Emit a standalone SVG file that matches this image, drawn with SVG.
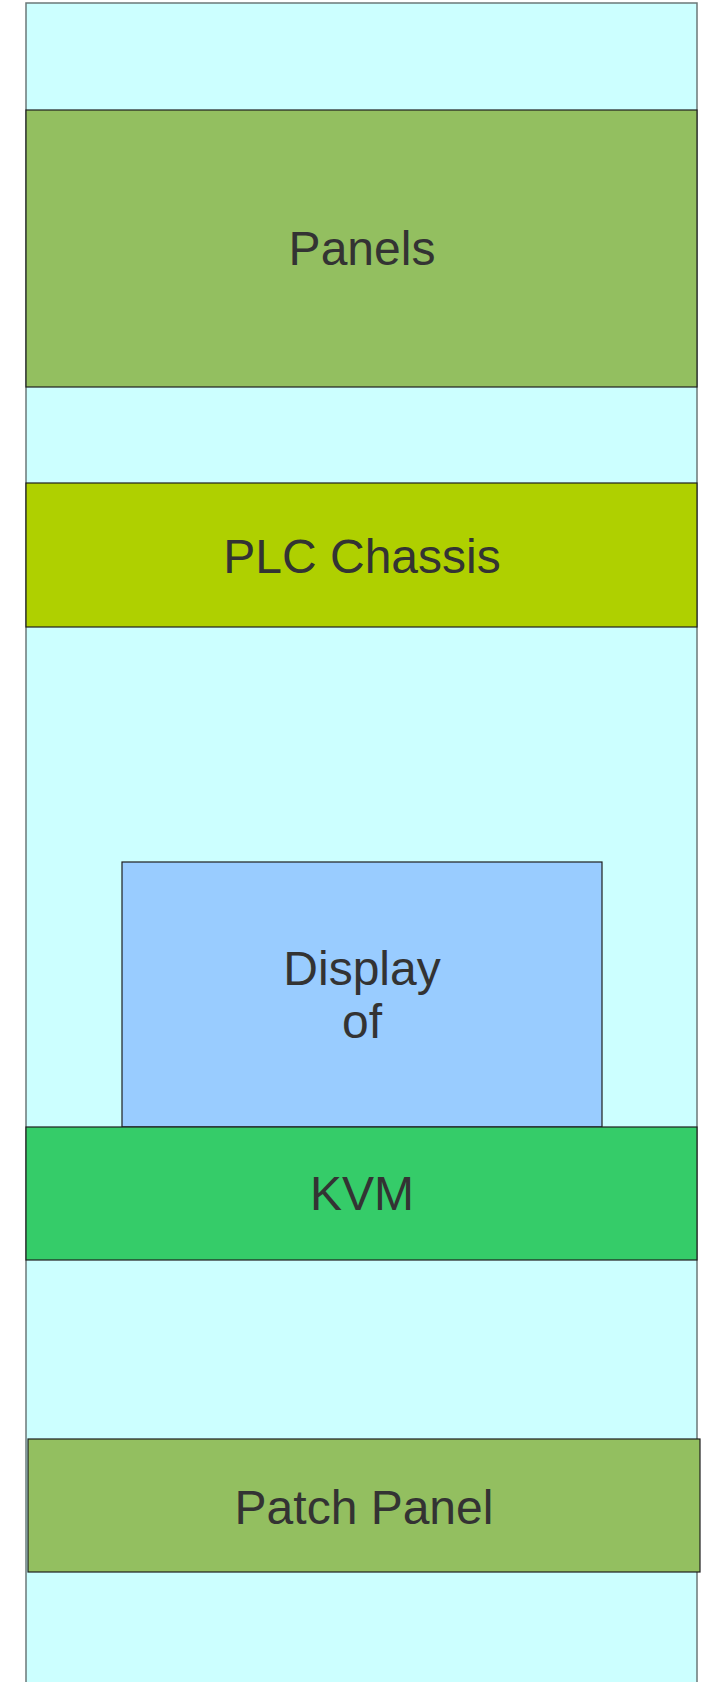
<svg xmlns="http://www.w3.org/2000/svg" width="706" height="1682" viewBox="0 0 706 1682">
<style>
.lbl{font-family:"Liberation Sans",Arial,sans-serif;font-size:48px;fill:#333333;text-anchor:middle}
.box{stroke:#1e1e1e;stroke-width:1.2}
</style>
<rect width="706" height="1682" fill="#ffffff"/>
<g id="rack">
<rect x="26" y="3" width="671" height="1690" fill="#ccffff" stroke="#6b7878" stroke-width="1.5"/>
</g>
<g id="panels">
<rect class="box" x="26" y="110" width="671" height="277" fill="#93bf60"/>
<text class="lbl" x="362" y="265">Panels</text>
</g>
<g id="plc-chassis">
<rect class="box" x="26" y="483" width="671" height="144" fill="#afd000"/>
<text class="lbl" x="362" y="573">PLC Chassis</text>
</g>
<g id="display">
<rect class="box" x="122" y="862" width="480" height="265" fill="#99ccff"/>
<text class="lbl" x="362" y="985">Display</text>
<text class="lbl" x="362" y="1038">of</text>
</g>
<g id="kvm">
<rect class="box" x="26" y="1127" width="671" height="133" fill="#35cc69"/>
<text class="lbl" x="362" y="1210">KVM</text>
</g>
<g id="patch-panel">
<rect class="box" x="28" y="1439" width="672" height="133" fill="#93bf60"/>
<text class="lbl" x="364" y="1524">Patch Panel</text>
</g>
<g id="connectors"></g>
</svg>
